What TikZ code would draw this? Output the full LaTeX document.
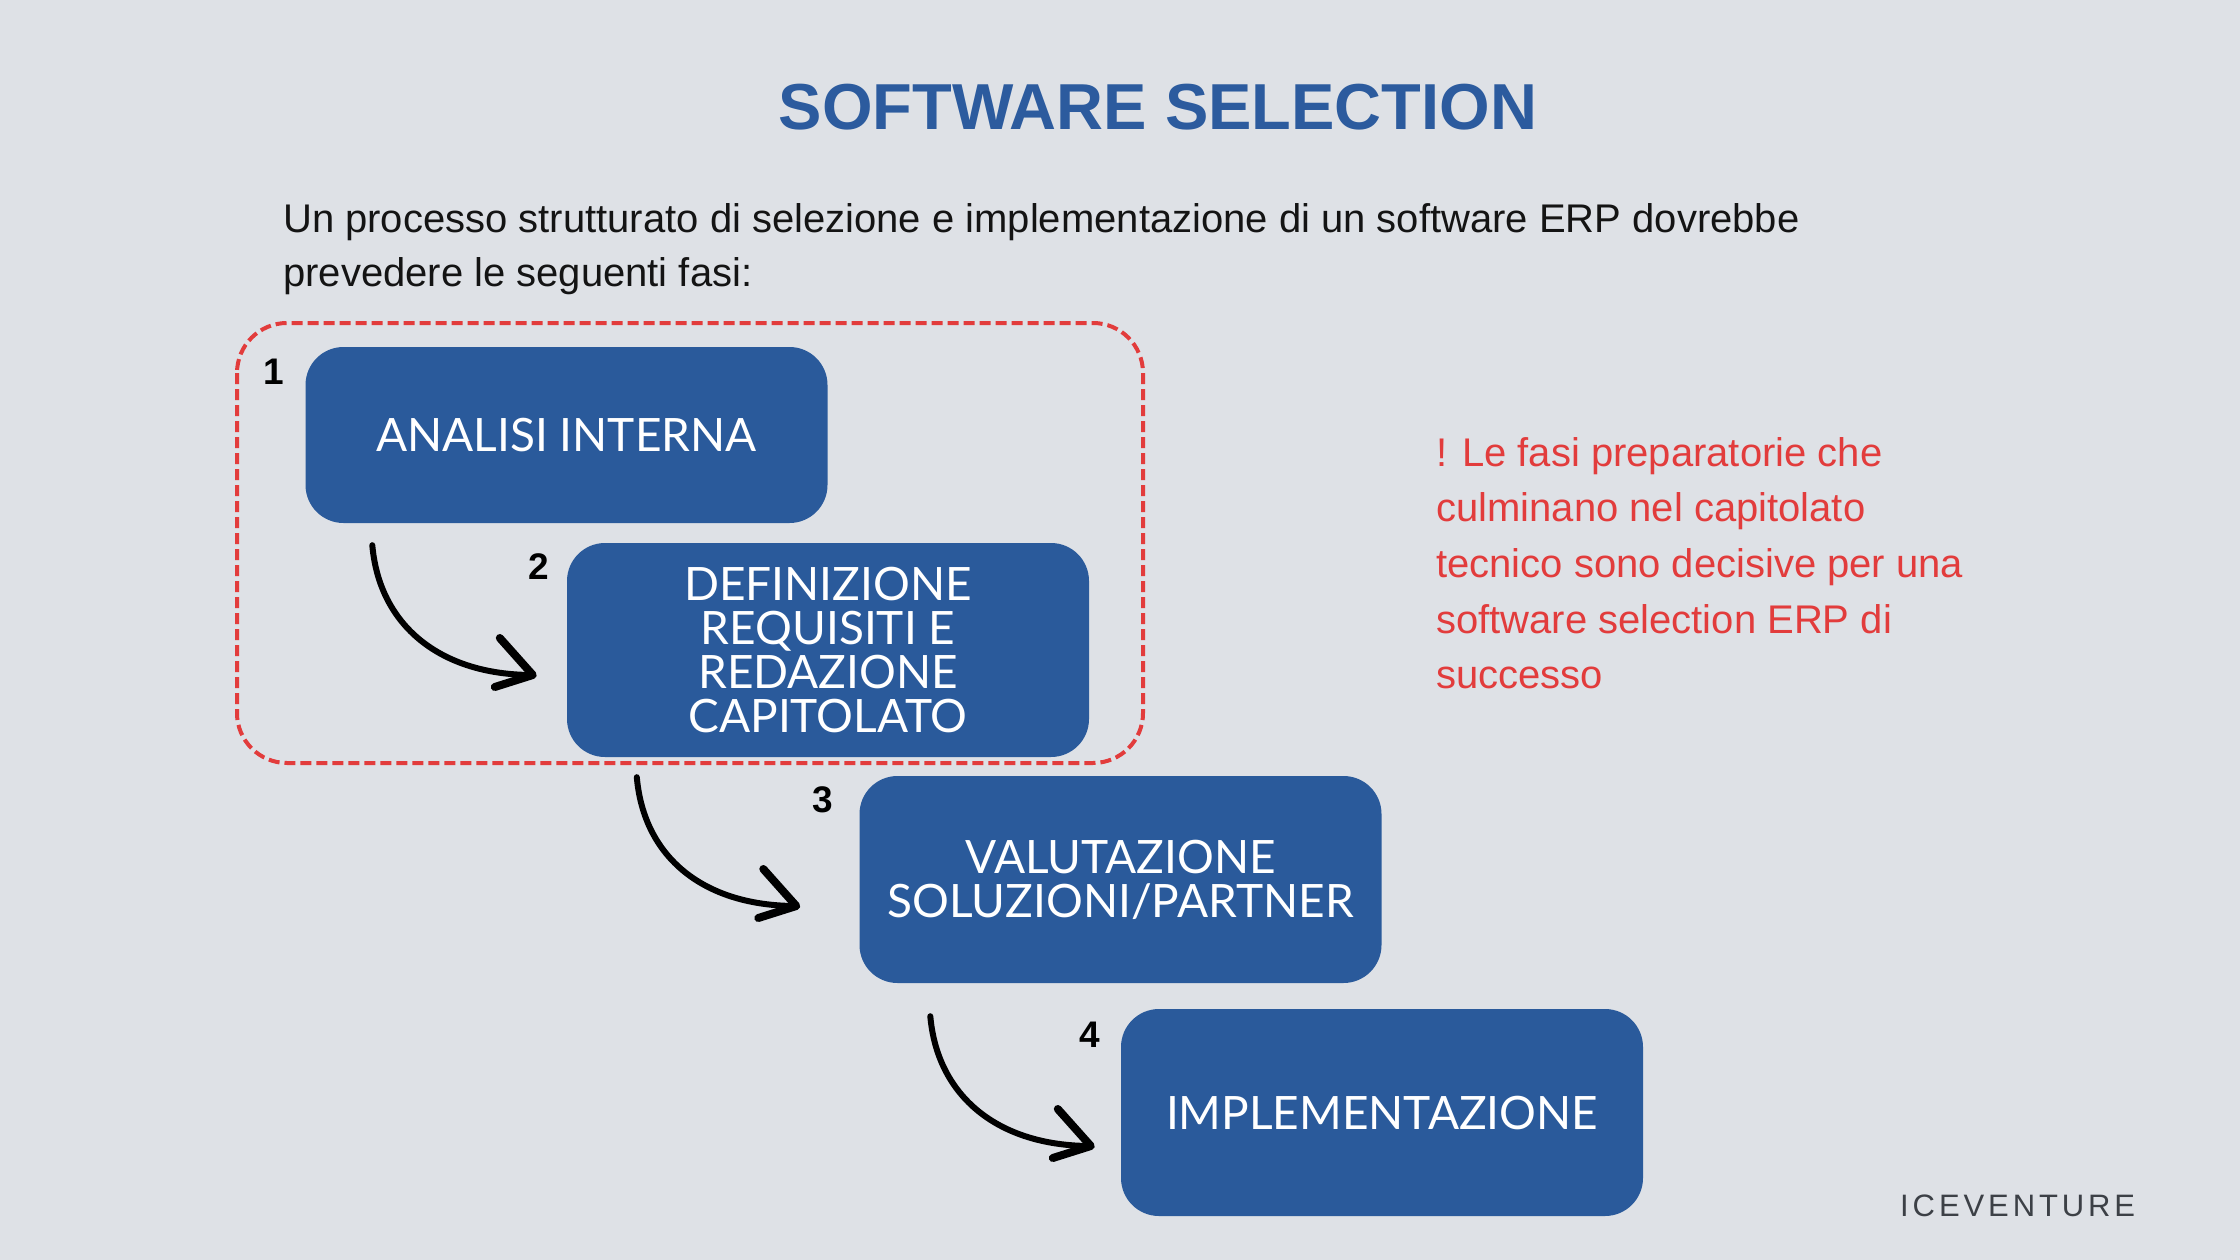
\documentclass[tikz,border=0pt]{standalone}
\usepackage{fontspec}
\setmainfont{Liberation Sans}
\newfontfamily\boxfont{Lato}
\usetikzlibrary{calc}
\definecolor{bg}{HTML}{DEE1E6}
\definecolor{boxblue}{HTML}{2A5A9B}
\definecolor{titleblue}{HTML}{2C5B9E}
\definecolor{notered}{HTML}{E23C3C}
\definecolor{logogray}{HTML}{3C4046}
\begin{document}
\begin{tikzpicture}[x=1pt,y=-1pt,
  stepbox/.style={fill=boxblue, rounded corners=38pt, text=white, align=center,
    font=\boxfont\fontsize{46}{44}\selectfont, inner sep=0pt,
    minimum width=522pt},
  numlabel/.style={font=\bfseries\fontsize{37}{40}\selectfont, text=black, inner sep=0pt},
  flow/.style={line width=6pt, line cap=round},
  headstroke/.style={line width=8pt, line cap=round, line join=round},
  frame/.style={draw=notered, line width=4pt, dash pattern=on 11pt off 5pt, rounded corners=50pt},
]
\useasboundingbox (0,0) rectangle (2240,1260);
\fill[bg] (0,0) rectangle (2240,1260);

% title and texts
\node[anchor=base, inner sep=0pt, text=titleblue, font=\bfseries\fontsize{65}{70}\selectfont] (title) at (1158,130) {SOFTWARE SELECTION};
\node[anchor=north west, align=left, inner sep=0pt, text=black!92, font=\fontsize{40}{54}\selectfont] (intro) at (283,203)
  {Un processo strutturato di selezione e implementazione di un software ERP dovrebbe\\prevedere le seguenti fasi:};
\node[anchor=north west, align=left, inner sep=0pt, text=notered, font=\fontsize{40}{55.7}\selectfont] (note) at (1436,437)
  {! Le fasi preparatorie che\\culminano nel capitolato\\tecnico sono decisive per una\\software selection ERP di\\successo};

% dashed frame
\draw[frame] (237,323) rectangle (1143,763);

% steps
\node[stepbox, minimum height=176pt] (b1) at (566.5,435) {ANALISI INTERNA};
\node[stepbox, minimum height=214pt] (b2) at (828,650) {DEFINIZIONE\\REQUISITI E\\REDAZIONE\\CAPITOLATO};
\node[stepbox, minimum height=207pt] (b3) at (1120.5,879.5) {VALUTAZIONE\\SOLUZIONI/PARTNER};
\node[stepbox, minimum height=207pt] (b4) at (1382,1112.5) {IMPLEMENTAZIONE};

\node[numlabel] (n1) at (274,372) {1};
\node[numlabel] (n2) at (539,566.5) {2};
\node[numlabel] (n3) at (823,800) {3};
\node[numlabel] (n4) at (1090,1035) {4};

% connectors
\coordinate (a1s) at ($(b1.south west)+(67,22)$);
\coordinate (a1e) at ($(b2.west)+(-34,25)$);
\coordinate (a2s) at ($(b2.south west)+(70,20)$);
\coordinate (a2e) at ($(b3.west)+(-63,26.5)$);
\coordinate (a3s) at ($(b3.south west)+(71,33)$);
\coordinate (a3e) at ($(b4.west)+(-30,33.5)$);
\foreach \s/\e in {a1s/a1e, a2s/a2e, a3s/a3e}{
  \draw[flow] (\s) .. controls +(7,80) and +(-93,0) .. (\e);
  \draw[headstroke] ($(\e)+(-33,-37)$) -- (\e) -- ($(\e)+(-38,12)$);
}

% logo
\node[anchor=base west, inner sep=0pt, text=logogray, font=\fontsize{31}{34}\selectfont] (logo) at (1900,1216)
  {I\kern3.9pt C\kern3.9pt E\kern3.9pt V\kern3.9pt E\kern3.9pt N\kern3.9pt T\kern3.9pt U\kern3.9pt R\kern3.9pt E};
\end{tikzpicture}
\end{document}
